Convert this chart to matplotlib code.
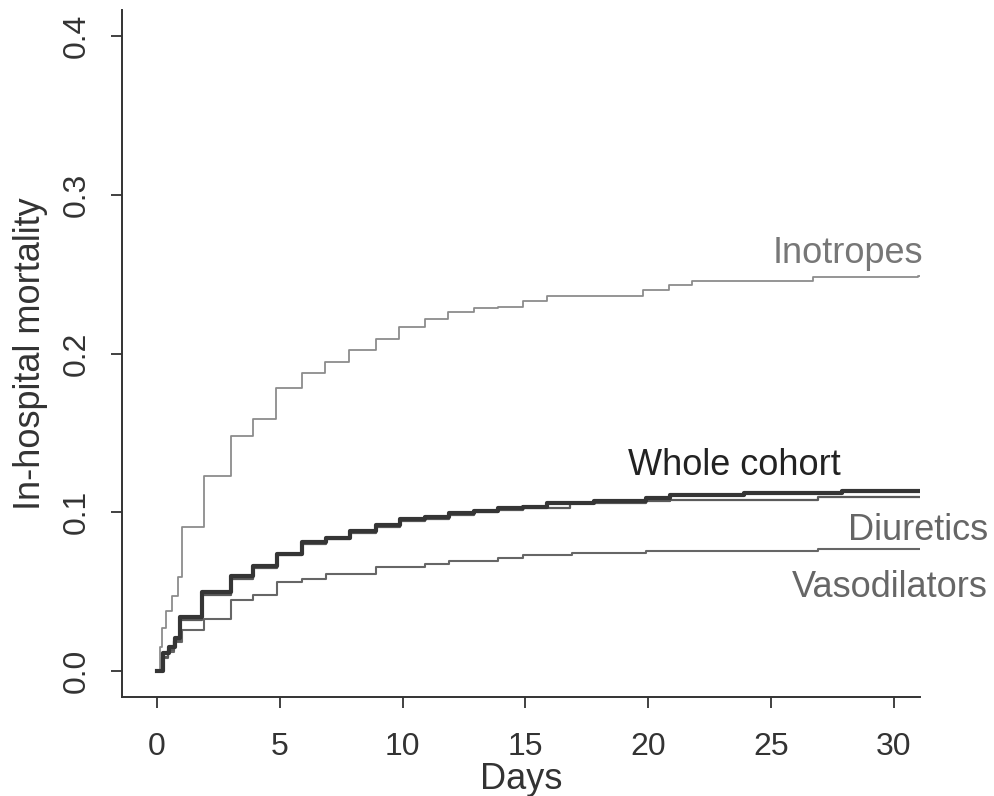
#!/usr/bin/env python
# in-hospital mortality step curves by treatment group

import numpy as np
from matplotlib import pyplot as plt

# step curves (days, cumulative mortality)
ino_t=[0,0.1,0.2,0.35,0.6,0.85,1.0,1.9,3.0,3.9,4.85,5.9,6.85,7.8,8.9,9.85,10.9,11.85,12.9,13.9,14.9,15.9,19.8,20.85,21.8,26.7,31.0,31.1]
ino_v=[0,0.015,0.027,0.038,0.047,0.059,0.091,0.123,0.148,0.159,0.178,0.188,0.195,0.202,0.209,0.217,0.222,0.226,0.229,0.2295,0.233,0.236,0.240,0.243,0.2455,0.248,0.249,0.249]

whole_t=[0,0.25,0.5,0.75,0.95,1.85,3.0,3.9,4.9,5.9,6.9,7.85,8.9,9.9,10.9,11.9,12.9,13.9,14.9,15.9,17.8,19.9,20.9,23.9,27.9,31.1]
whole_v=[0,0.011,0.015,0.021,0.034,0.050,0.060,0.066,0.074,0.081,0.084,0.088,0.092,0.0955,0.097,0.0995,0.101,0.1025,0.1035,0.106,0.107,0.109,0.111,0.112,0.1135,0.1135]

diu_t=[0,0.2,0.45,0.7,0.95,1.85,3.0,3.9,4.9,5.9,6.9,7.85,8.9,9.9,10.9,11.9,12.9,13.9,14.9,16.8,19.9,20.9,26.9,31.1]
diu_v=[0,0.009,0.013,0.019,0.032,0.048,0.058,0.065,0.073,0.080,0.083,0.087,0.091,0.0945,0.096,0.0985,0.100,0.1015,0.1025,0.106,0.107,0.108,0.1097,0.1097]

vaso_t=[0,0.2,0.45,0.7,1.0,1.9,3.0,3.9,4.9,5.9,6.9,8.9,10.9,11.9,13.9,14.9,16.9,19.9,26.9,31.1]
vaso_v=[0,0.008,0.012,0.018,0.026,0.033,0.045,0.048,0.056,0.058,0.061,0.0655,0.0675,0.069,0.071,0.073,0.0745,0.0756,0.077,0.077]

x_ticks=[0,5,10,15,20,25,30]
y_ticks=[0.0,0.1,0.2,0.3,0.4]

def main():
	plt.rc('font',family=['Liberation Sans','DejaVu Sans'])
	fig=plt.figure(figsize=(9.94,7.96),dpi=100)
	ax=fig.add_axes([0.1227,0.1244,0.803,0.863])

	ax.step(ino_t,ino_v,where='post',color='#8c8c8c',lw=1.3)
	ax.step(vaso_t,vaso_v,where='post',color='#666666',lw=1.5)
	ax.step(diu_t,diu_v,where='post',color='#5a5a5a',lw=1.6)
	ax.step(whole_t,whole_v,where='post',color='#353535',lw=3.0)

	ax.text(31.2,0.257,'Inotropes',ha='right',va='baseline',fontsize=26,color='#777777')
	ax.text(23.5,0.1235,'Whole cohort',ha='center',va='baseline',fontsize=26,color='#222222')
	ax.text(33.85,0.0825,'Diuretics',ha='right',va='baseline',fontsize=26,color='#666666')
	ax.text(33.85,0.0466,'Vasodilators',ha='right',va='baseline',fontsize=26,color='#666666')

	ax.set_xlim(-1.43,31.08)
	ax.set_ylim(-0.0164,0.4165)
	ax.set_xticks(x_ticks)
	ax.set_yticks(y_ticks)
	ax.set_yticklabels(['%.1f'%v for v in y_ticks],rotation=90,va='center')
	ax.tick_params(axis='both',direction='out',length=8,width=1.3,color='#333333',labelsize=23,labelcolor='#333333')
	ax.tick_params(axis='x',pad=17)
	ax.tick_params(axis='y',pad=14)

	for s in ['top','right']:
		ax.spines[s].set_visible(False)
	for s in ['left','bottom']:
		ax.spines[s].set_linewidth(1.4)
		ax.spines[s].set_color('#333333')

	ax.set_xlabel('Days',fontsize=26,color='#333333',labelpad=0)
	ax.set_ylabel('In-hospital mortality',fontsize=26,color='#333333',labelpad=10)

	fig.savefig('out.png',dpi=100)

if __name__ == '__main__':
	main()
